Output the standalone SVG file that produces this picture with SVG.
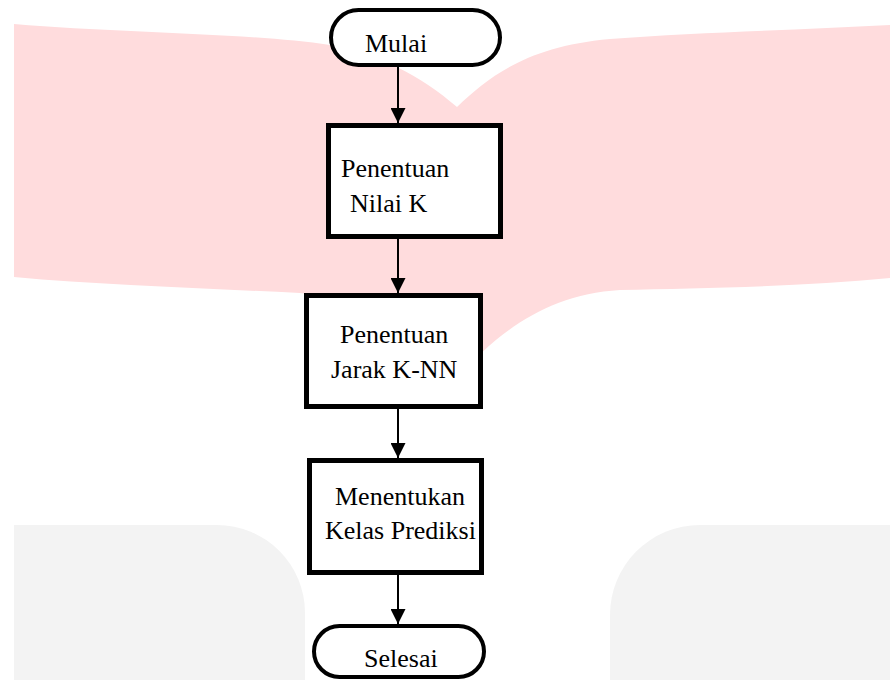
<svg xmlns="http://www.w3.org/2000/svg" width="890" height="680" viewBox="0 0 890 680">
<style>
.t{font-family:"Liberation Serif","Times New Roman",serif;font-size:26px;fill:#000}
.box{fill:#fff;stroke:#000;stroke-width:5}
.term{fill:#fff;stroke:#000;stroke-width:4}
.conn{stroke:#000;stroke-width:2;fill:none}
</style>
<defs>
<marker id="ah" markerUnits="userSpaceOnUse" markerWidth="16" markerHeight="15" refX="15" refY="7.5" orient="auto">
<path d="M0,0 L15,7.5 L0,15 Z" fill="#000"/>
</marker>
</defs>
<rect width="890" height="680" fill="#fff"/>
<g id="watermark">
<path d="M14,24 C120,33 250,33 330,45 C380,55 420,75 457,107 C490,75 530,46 610,39 C700,32 800,30 890,25 L890,278 C800,287 700,288 620,290 C550,294 500,330 460,375 C420,320 370,300 300,293 C200,288 100,285 14,277 Z" fill="#FFDCDD"/>
<path d="M14,525 L217,525 A88,88 0 0 1 305,613 L305,680 L14,680 Z" fill="#F3F3F3"/>
<path d="M890,525 L700,525 A90,90 0 0 0 610,615 L610,680 L890,680 Z" fill="#F3F3F3"/>
</g>
<g id="connectors">
<line class="conn" x1="398" y1="67" x2="398" y2="123" marker-end="url(#ah)"/>
<line class="conn" x1="398" y1="239" x2="398" y2="293" marker-end="url(#ah)"/>
<line class="conn" x1="398" y1="409" x2="398" y2="458" marker-end="url(#ah)"/>
<line class="conn" x1="398" y1="575" x2="398" y2="624" marker-end="url(#ah)"/>
</g>
<g id="mulai">
<rect class="term" x="331" y="10" width="169" height="55" rx="27.5"/>
<text class="t" x="365" y="52">Mulai</text>
</g>
<g id="nilai-k">
<rect class="box" x="328.5" y="125.5" width="172" height="111"/>
<text class="t" x="341" y="177">Penentuan</text>
<text class="t" x="350" y="212">Nilai K</text>
</g>
<g id="jarak-knn">
<rect class="box" x="306.5" y="295.5" width="174" height="111"/>
<text class="t" x="340" y="343">Penentuan</text>
<text class="t" x="331" y="378">Jarak K-NN</text>
</g>
<g id="kelas-prediksi">
<rect class="box" x="309.5" y="460.5" width="172" height="112"/>
<text class="t" x="335" y="505">Menentukan</text>
<text class="t" x="325" y="539">Kelas Prediksi</text>
</g>
<g id="selesai">
<rect class="term" x="314" y="626" width="170" height="51" rx="25.5"/>
<text class="t" x="364" y="667">Selesai</text>
</g>
</svg>
